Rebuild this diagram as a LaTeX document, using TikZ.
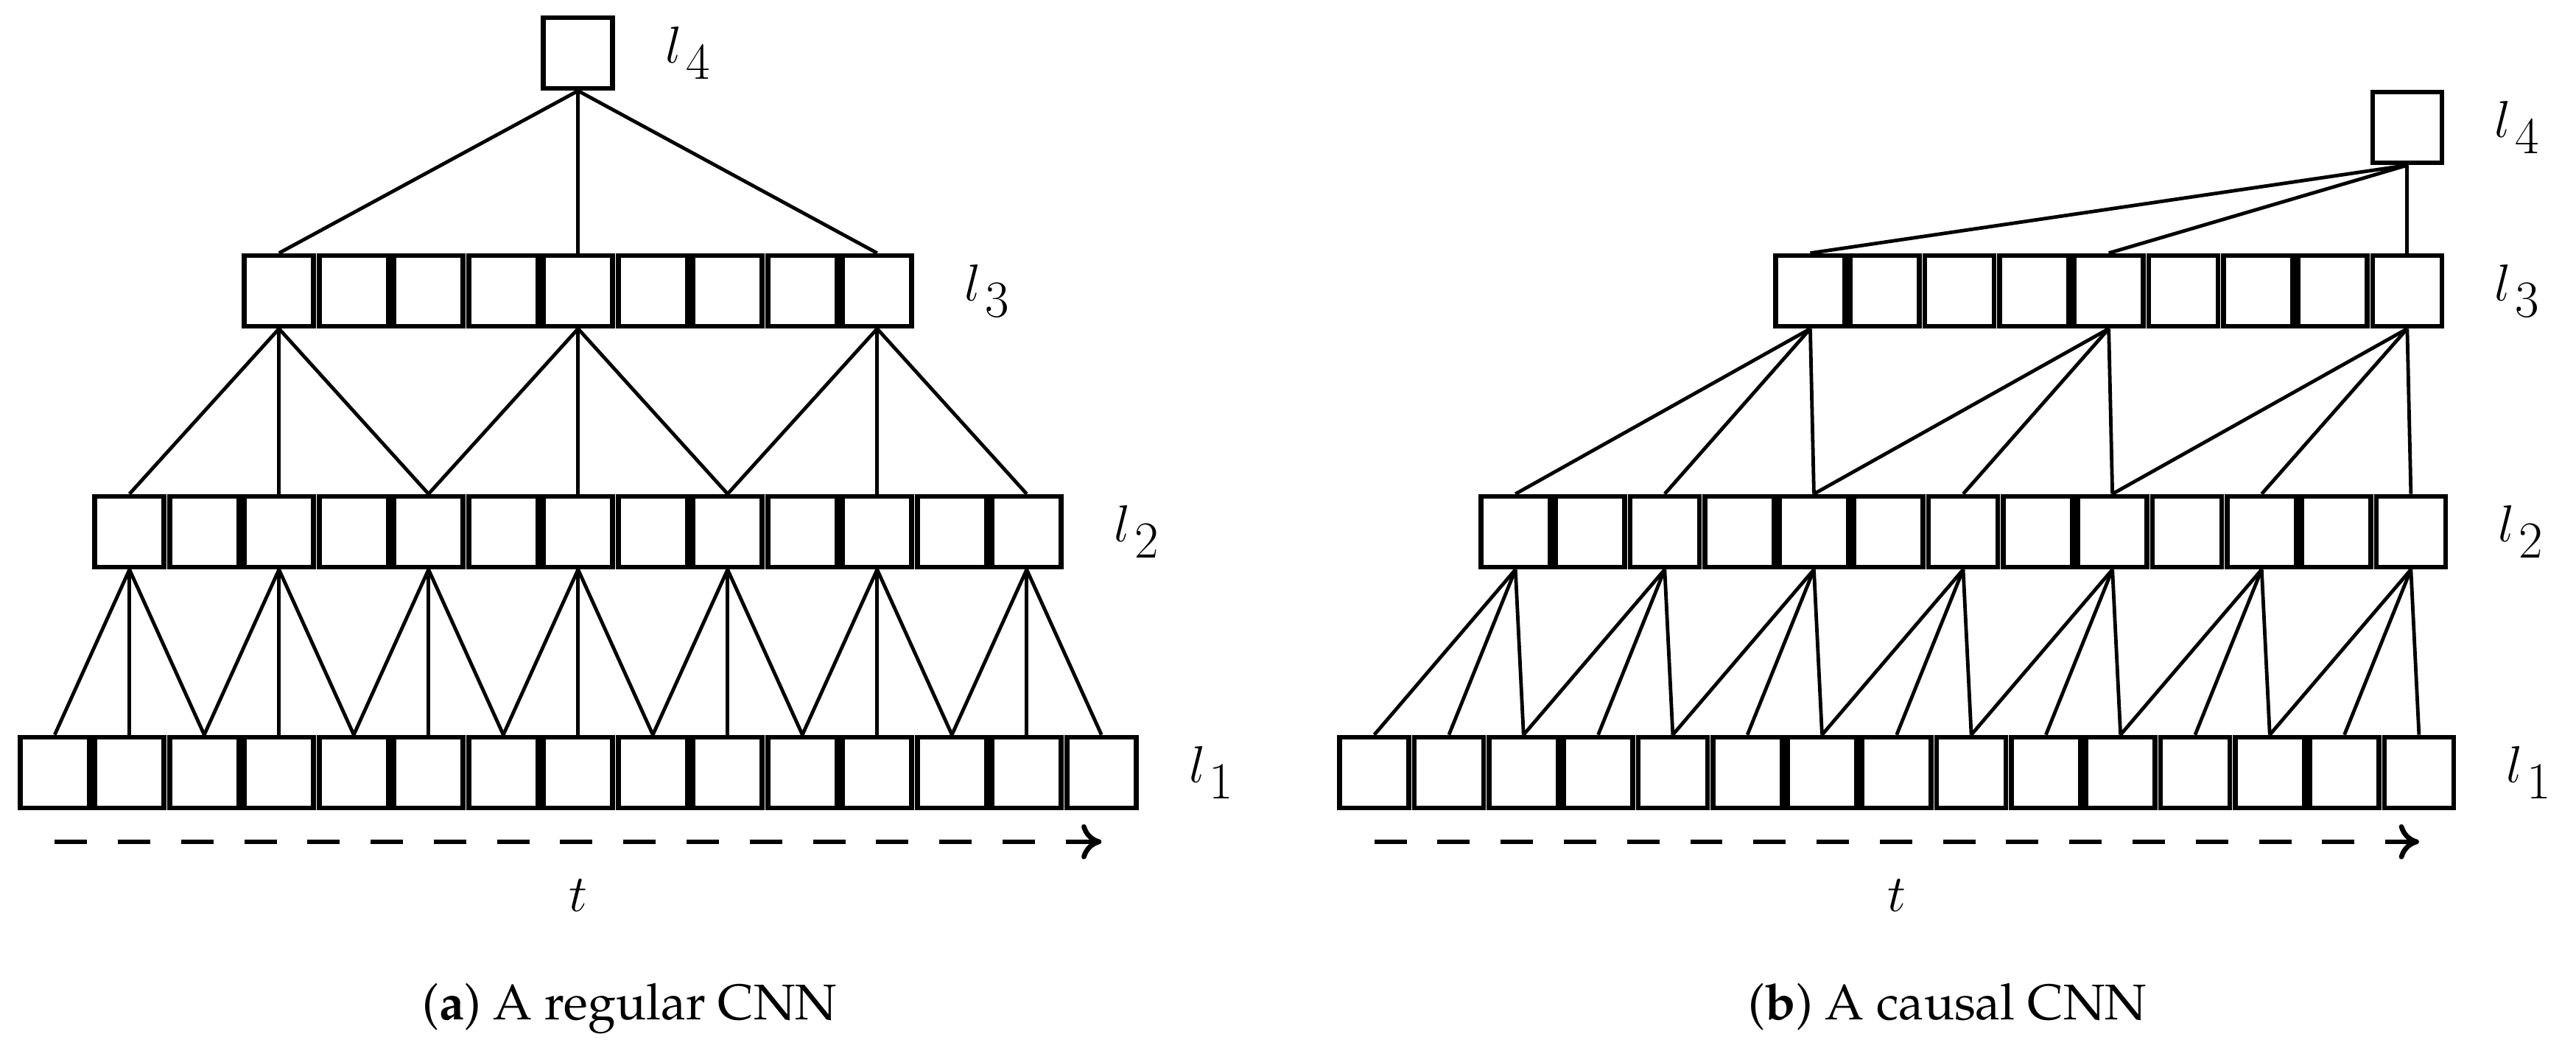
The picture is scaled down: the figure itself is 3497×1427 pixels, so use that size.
\documentclass[tikz,border=0pt]{standalone}
\usepackage[T1,TU]{fontenc}
\usetikzlibrary{arrows.meta}
\begin{document}
\begin{tikzpicture}[x=0.29377pt, y=-0.29377pt,
  cell/.style={draw, line width=1.97pt, minimum width=27.6pt, minimum height=28.2pt, inner sep=0pt},
  conn/.style={line width=1.41pt},
  lab/.style={anchor=west, inner sep=0pt, font=\huge},
  tlab/.style={anchor=base, inner sep=0pt, font=\huge},
  captext/.style={anchor=base, inner sep=0pt, font=\fontencoding{T1}\fontfamily{ppl}\fontsize{20}{24}\selectfont},
  tline/.style={line width=1.97pt, dash pattern=on 12.9pt off 12.3pt, -{To[length=8pt,width=14pt]}}]
\useasboundingbox (0,0) rectangle (3497,1427);
% ---------- (a) regular CNN ----------
\foreach \i in {0,...,14} \node[cell] (a1-\i) at ({23.5+101.5*(\i+0.5)},1049) {};
\foreach \i in {0,...,12} \node[cell] (a2-\i) at ({23.5+101.5*(\i+1.5)},722) {};
\foreach \i in {0,...,8}  \node[cell] (a3-\i) at ({23.5+101.5*(\i+3.5)},395) {};
\node[cell] (a4) at ({23.5+101.5*7.5},72) {};
\foreach \j/\ja/\jb in {0/1/2,2/3/4,4/5/6,6/7/8,8/9/10,10/11/12,12/13/14} {
  \draw[conn] (a2-\j.south) -- (a1-\j.north);
  \draw[conn] (a2-\j.south) -- (a1-\ja.north);
  \draw[conn] (a2-\j.south) -- (a1-\jb.north);
}
\foreach \j/\ja/\jb in {0/2/4,4/6/8,8/10/12} {
  \draw[conn] (a3-\j.south) -- (a2-\j.north);
  \draw[conn] (a3-\j.south) -- (a2-\ja.north);
  \draw[conn] (a3-\j.south) -- (a2-\jb.north);
}
\draw[conn] (a4.south) -- (a3-0.north);
\draw[conn] (a4.south) -- (a3-4.north);
\draw[conn] (a4.south) -- (a3-8.north);
\node[lab] (la1) at ([xshift=20pt]a1-14.east) {$l_{\mkern2.5mu\textstyle 1}$};
\node[lab] (la2) at ([xshift=20pt]a2-12.east) {$l_{\mkern2.5mu\textstyle 2}$};
\node[lab] (la3) at ([xshift=20pt]a3-8.east) {$l_{\mkern2.5mu\textstyle 3}$};
\node[lab] (la4) at ([xshift=20pt]a4.east) {$l_{\mkern2.5mu\textstyle 4}$};
\draw[tline] ([yshift=-12.5pt]a1-0.south) -- ([yshift=-12.5pt]a1-14.south);
\node[tlab] (ta) at ([yshift=-40.4pt]a1-7.south) {$t$};
\node[captext] (capa) at (855,1384) {(\textbf{a}) A regular CNN};
% ---------- (b) causal CNN ----------
\foreach \i in {0,...,14} \node[cell] (b1-\i) at ({1815+101.3*(\i+0.5)},1049) {};
\foreach \i in {0,...,12} \node[cell] (b2-\i) at ({1804+101.3*(\i+2.5)},722) {};
\foreach \i in {0,...,8}  \node[cell] (b3-\i) at ({1799+101.3*(\i+6.5)},395) {};
\node[cell] (b4) at ({1799+101.3*14.5},173) {};
\foreach \j/\ja/\jb in {0/1/2,2/3/4,4/5/6,6/7/8,8/9/10,10/11/12,12/13/14} {
  \draw[conn] (b2-\j.south) -- (b1-\j.north);
  \draw[conn] (b2-\j.south) -- (b1-\ja.north);
  \draw[conn] (b2-\j.south) -- (b1-\jb.north);
}
\foreach \j/\ja/\jb in {0/2/4,4/6/8,8/10/12} {
  \draw[conn] (b3-\j.south) -- (b2-\j.north);
  \draw[conn] (b3-\j.south) -- (b2-\ja.north);
  \draw[conn] (b3-\j.south) -- (b2-\jb.north);
}
\draw[conn] (b4.south) -- (b3-0.north);
\draw[conn] (b4.south) -- (b3-4.north);
\draw[conn] (b4.south) -- (b3-8.north);
\node[lab] (lb1) at ([xshift=20pt]b1-14.east) {$l_{\mkern2.5mu\textstyle 1}$};
\node[lab] (lb2) at ([xshift=20pt]b2-12.east) {$l_{\mkern2.5mu\textstyle 2}$};
\node[lab] (lb3) at ([xshift=20pt]b3-8.east) {$l_{\mkern2.5mu\textstyle 3}$};
\node[lab] (lb4) at ([xshift=20pt]b4.east) {$l_{\mkern2.5mu\textstyle 4}$};
\draw[tline] ([yshift=-12.5pt]b1-0.south) -- ([yshift=-12.5pt]b1-14.south);
\node[tlab] (tb) at ([yshift=-40.4pt]b1-7.south) {$t$};
\node[captext] (capb) at (2644,1384) {(\textbf{b}) A causal CNN};
\end{tikzpicture}
\end{document}
